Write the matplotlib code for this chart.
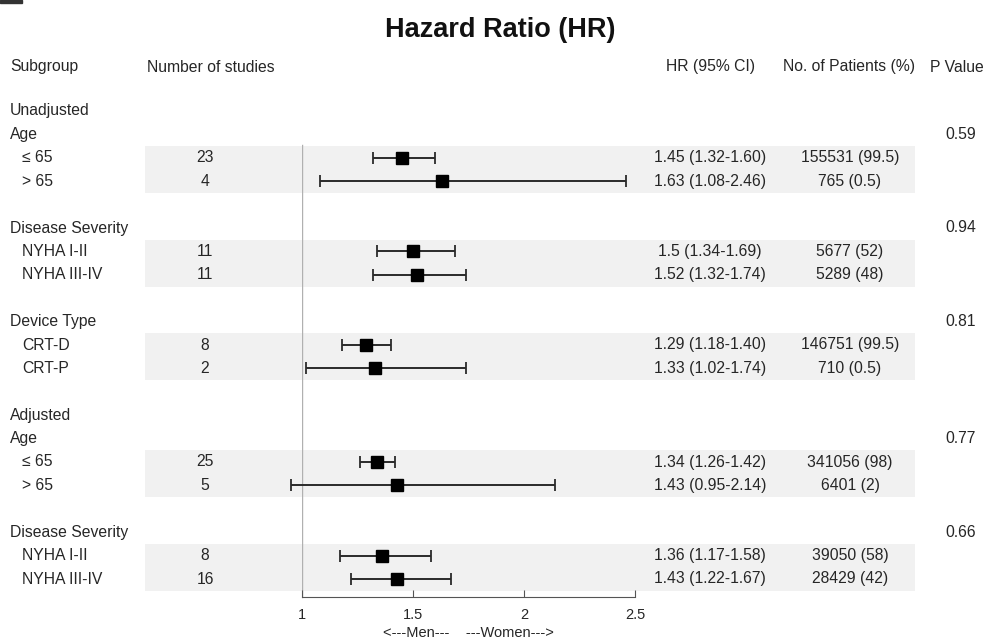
import matplotlib
matplotlib.use("Agg")
import matplotlib.pyplot as plt
from matplotlib.patches import Rectangle

plt.rcParams['font.family'] = ['Liberation Sans', 'DejaVu Sans']

# ---- data ----
section_labels = {0: "Unadjusted", 3: "Adjusted"}   # group index -> section title
group_labels = ["Age", "Disease Severity", "Device Type", "Age", "Disease Severity"]
p_values = ["0.59", "0.94", "0.81", "0.77", "0.66"]

sub_labels = ["\u2264 65", "> 65", "NYHA I-II", "NYHA III-IV", "CRT-D", "CRT-P",
              "\u2264 65", "> 65", "NYHA I-II", "NYHA III-IV"]
n_studies = [23, 4, 11, 11, 8, 2, 25, 5, 8, 16]
hr = [1.45, 1.63, 1.5, 1.52, 1.29, 1.33, 1.34, 1.43, 1.36, 1.43]
ci_lo = [1.32, 1.08, 1.34, 1.32, 1.18, 1.02, 1.26, 0.95, 1.17, 1.22]
ci_hi = [1.60, 2.46, 1.69, 1.74, 1.40, 1.74, 1.42, 2.14, 1.58, 1.67]
hr_text = ["1.45 (1.32-1.60)", "1.63 (1.08-2.46)", "1.5 (1.34-1.69)", "1.52 (1.32-1.74)",
           "1.29 (1.18-1.40)", "1.33 (1.02-1.74)", "1.34 (1.26-1.42)", "1.43 (0.95-2.14)",
           "1.36 (1.17-1.58)", "1.43 (1.22-1.67)"]
patients = ["155531 (99.5)", "765 (0.5)", "5677 (52)", "5289 (48)", "146751 (99.5)",
            "710 (0.5)", "341056 (98)", "6401 (2)", "39050 (58)", "28429 (42)"]
x_ticks = [1, 1.5, 2, 2.5]
x_ticklabels = ["1", "1.5", "2", "2.5"]

# ---- layout (pixels of a 990x644 figure) ----
W, H = 990, 644
ROW0, ROWH = 111, 23.4


def px2row(p):
    return (p - ROW0) / ROWH


TXT = '#262626'
FS = 11.3
ylim = (px2row(H), px2row(0))

fig = plt.figure(figsize=(W / 100, H / 100), dpi=100)
ax = fig.add_axes([0, 0, 1, 1])
ax.set_xlim(0, W)
ax.set_ylim(*ylim)
ax.axis('off')

fax = fig.add_axes([302 / W, 0, 333 / W, 1])
fax.set_xlim(1, 2.5)
fax.set_ylim(*ylim)
fax.patch.set_alpha(0)
for s in ['top', 'left', 'right']:
    fax.spines[s].set_visible(False)
axis_row = px2row(597)
fax.spines['bottom'].set_position(('data', axis_row))
fax.spines['bottom'].set_bounds(1, 2.5)
fax.spines['bottom'].set_color('#555555')
fax.set_yticks([])
fax.set_xticks(x_ticks)
fax.set_xticklabels(x_ticklabels)
fax.tick_params(axis='x', direction='in', length=5, color='#555555',
                labelsize=10.5, labelcolor=TXT, pad=8)

# title + header
ax.text(500, px2row(30), "Hazard Ratio (HR)", ha='center', va='center',
        fontsize=19.5, fontweight='bold', color='#111111')
hrow = px2row(67)
ax.text(10, hrow, "Subgroup", ha='left', va='center', fontsize=FS, color=TXT)
ax.text(147, hrow, "Number of studies", ha='left', va='center', fontsize=FS, color=TXT)
ax.text(710, hrow, "HR (95% CI)", ha='center', va='center', fontsize=FS, color=TXT)
ax.text(849, hrow, "No. of Patients (%)", ha='center', va='center', fontsize=FS, color=TXT)
ax.text(957, hrow, "P Value", ha='center', va='center', fontsize=FS, color=TXT)

# rows
r = 0
data_rows = []
for g, glabel in enumerate(group_labels):
    if g in section_labels:
        ax.text(10, r, section_labels[g], ha='left', va='center', fontsize=FS, color=TXT)
        r += 1
    ax.text(10, r, glabel, ha='left', va='center', fontsize=FS, color=TXT)
    ax.text(961, r, p_values[g], ha='center', va='center', fontsize=FS, color=TXT)
    r += 1
    ax.barh(r + 0.5, 770, left=145, height=2, color='#f1f1f1', zorder=0)
    data_rows += [r, r + 1]
    r += 3

for i, row in enumerate(data_rows):
    ax.text(22, row, sub_labels[i], ha='left', va='center', fontsize=FS, color=TXT)
    ax.text(205, row, str(n_studies[i]), ha='center', va='center', fontsize=FS, color=TXT)
    ax.text(710, row, hr_text[i], ha='center', va='center', fontsize=FS, color=TXT)
    ax.text(850, row, patients[i], ha='center', va='center', fontsize=FS, color=TXT)

# reference line at HR = 1
fax.plot([1, 1], [px2row(145), axis_row], color='#b0b0b0', lw=1, zorder=1)

xerr = [[h - lo for h, lo in zip(hr, ci_lo)], [hi - h for h, hi in zip(hr, ci_hi)]]
fax.errorbar(hr, data_rows, xerr=xerr, fmt='s', color='black', ecolor='#2a2a2a',
             markersize=8.7, elinewidth=1.4, capsize=4.3, capthick=1.3,
             clip_on=False, zorder=3)

fax.text(1.75, px2row(633), "<---Men---    ---Women--->", ha='center', va='center',
         fontsize=10.5, color=TXT)

# cropped panel tag in the corner
fig.patches.append(Rectangle((0, 1 - 3 / H), 22 / W, 3 / H, color='#333333',
                             transform=fig.transFigure, figure=fig))

fig.savefig("out.png", dpi=100)
